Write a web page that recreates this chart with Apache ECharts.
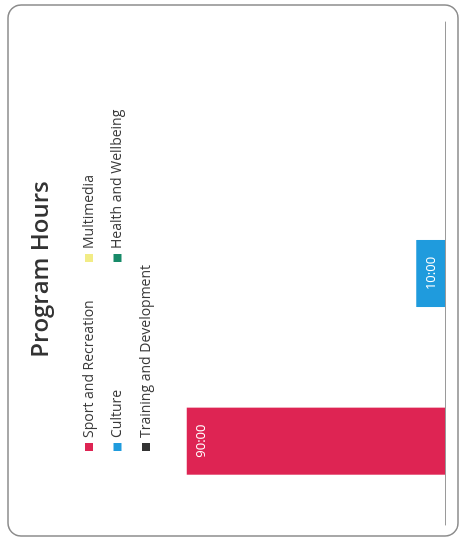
<!DOCTYPE html>
<html>
<head>
<meta charset="utf-8">
<script src="https://cdn.jsdelivr.net/npm/echarts@6/dist/echarts.min.js"></script>
<style>
  html, body { margin: 0; padding: 0; background: #ffffff; overflow: hidden; width: 460px; height: 539px; }
  /* the printed sheet is laid out landscape and turned a quarter turn */
  #chart {
    position: absolute; left: 0; top: 0;
    width: 539px; height: 460px;
    transform-origin: 0 0;
    transform: translateY(539px) rotate(-90deg);
  }
</style>
</head>
<body>
<div id="chart"></div>
<script>
// Reporting periods (not labelled on the axis)
const periods = ['P1', 'P2', 'P3'];

// Program hours per area, one value per period ('-' = no hours logged)
const sportRecreation = [90, '-', '-'];
const multimedia = ['-', '-', '-'];
const culture = ['-', 10, '-'];
const healthWellbeing = ['-', '-', '-'];
const trainingDevelopment = ['-', '-', '-'];

const seriesNames = ['Sport and Recreation', 'Multimedia', 'Culture', 'Health and Wellbeing', 'Training and Development'];
const seriesValues = [sportRecreation, multimedia, culture, healthWellbeing, trainingDevelopment];
const seriesColors = ['#DE2453', '#F2EC86', '#1F9BDD', '#178A68', '#333333'];

const FONT = '"Open Sans", "Noto Sans", sans-serif';

const chart = echarts.init(document.getElementById('chart'), null, { renderer: 'canvas' });

chart.setOption({
  backgroundColor: '#ffffff',
  animation: false,
  title: {
    text: 'Program Hours',
    left: 'center',
    top: 24,
    textStyle: { fontFamily: FONT, fontSize: 24, fontWeight: 600, color: '#333333' }
  },
  legend: [
    {
      orient: 'vertical',
      left: 83, top: 76,
      icon: 'rect', itemWidth: 8, itemHeight: 8, itemGap: 12.5,
      textStyle: { fontFamily: FONT, fontSize: 14, color: '#3a3a3a', lineHeight: 16 },
      data: [seriesNames[0], seriesNames[2], seriesNames[4]]
    },
    {
      orient: 'vertical',
      left: 272, top: 76,
      icon: 'rect', itemWidth: 8, itemHeight: 8, itemGap: 12.5,
      textStyle: { fontFamily: FONT, fontSize: 14, color: '#3a3a3a', lineHeight: 16 },
      data: [seriesNames[1], seriesNames[3]]
    }
  ],
  grid: { left: 14, right: 22, top: 158, bottom: 15, containLabel: false },
  xAxis: {
    type: 'category',
    data: periods,
    axisLine: { lineStyle: { color: '#9a9a9a', width: 1 } },
    axisTick: { show: false },
    axisLabel: { show: false }
  },
  yAxis: {
    type: 'value',
    min: 0, max: 100,
    show: false,
    splitLine: { show: false }
  },
  graphic: [{
    type: 'rect',
    silent: true,
    shape: { x: 3, y: 8, width: 531, height: 450, r: 13 },
    style: { fill: 'none', stroke: '#8c8c8c', lineWidth: 1.5 }
  }],
  series: seriesNames.map((name, i) => ({
    name,
    type: 'bar',
    stack: 'hours',
    barWidth: '40%',
    data: seriesValues[i],
    itemStyle: { color: seriesColors[i] },
    label: {
      show: true,
      position: 'insideTop',
      distance: 8,
      color: '#ffffff',
      fontFamily: FONT,
      fontSize: 13,
      formatter: p => p.value + ':00'
    }
  }))
});
</script>
</body>
</html>
